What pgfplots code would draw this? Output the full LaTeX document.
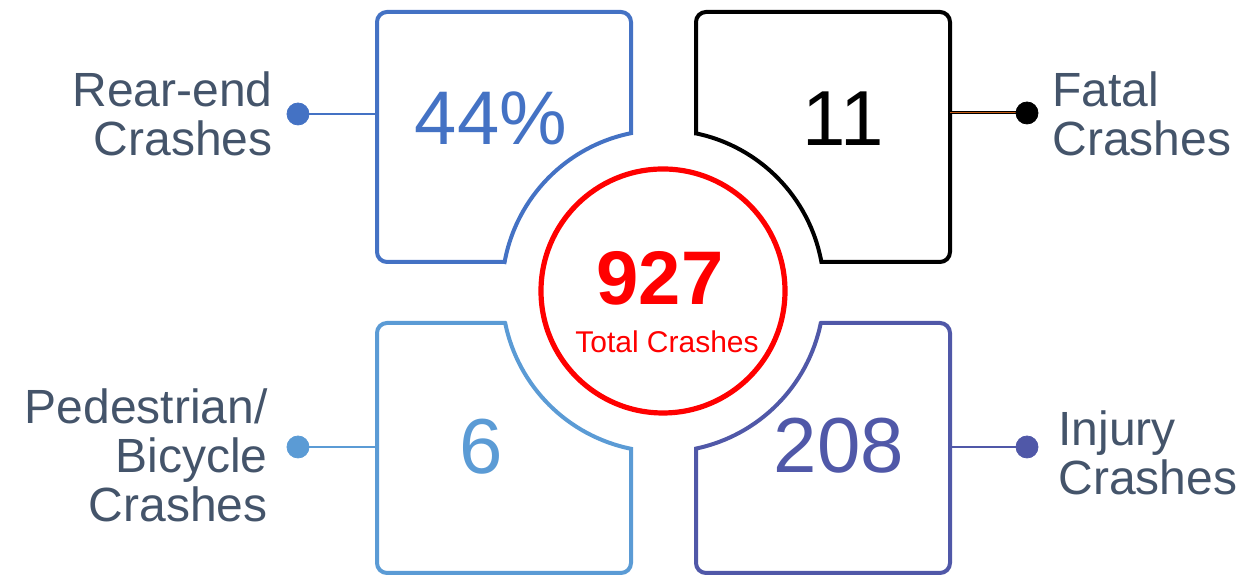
\documentclass[border=0pt]{standalone}
\usepackage{pgfplots}
\pgfplotsset{compat=1.18}
\usepackage{fontspec}
\setmainfont{Liberation Sans}
\definecolor{cblue}{HTML}{4472C4}
\definecolor{clight}{HTML}{5B9BD5}
\definecolor{cindigo}{HTML}{5058A8}
\definecolor{clab}{HTML}{44546A}
\definecolor{corange}{HTML}{C55A11}
\begin{document}
\begin{tikzpicture}
\begin{axis}[
  width=619.5pt, height=288pt, scale only axis,
  xmin=0, xmax=1239, ymin=0, ymax=576,
  hide axis, clip=false,
]
\addplot[draw=none, forget plot] coordinates {(0,0) (1239,576)};
% boxes
\draw[cblue, line width=2pt]
  (axis cs:504.6,314) -- (axis cs:387,314) arc[start angle=270, end angle=180, radius=10]
  -- (axis cs:377,554) arc[start angle=180, end angle=90, radius=10]
  -- (axis cs:621,564) arc[start angle=90, end angle=0, radius=10]
  -- (axis cs:631,442.8) arc[start angle=101.46, end angle=169.63, radius=161] -- cycle;
\draw[black, line width=2pt]
  (axis cs:696,442.6) -- (axis cs:696,554) arc[start angle=180, end angle=90, radius=10]
  -- (axis cs:940,564) arc[start angle=90, end angle=0, radius=10]
  -- (axis cs:950,324) arc[start angle=0, end angle=-90, radius=10]
  -- (axis cs:821.4,314) arc[start angle=10.37, end angle=78.17, radius=161] -- cycle;
\draw[clight, line width=2pt]
  (axis cs:505.2,253) -- (axis cs:387,253) arc[start angle=90, end angle=180, radius=10]
  -- (axis cs:377,13) arc[start angle=180, end angle=270, radius=10]
  -- (axis cs:621,3) arc[start angle=270, end angle=360, radius=10]
  -- (axis cs:631,127.2) arc[start angle=258.54, end angle=191.46, radius=161] -- cycle;
\draw[cindigo, line width=2pt]
  (axis cs:820.8,253) -- (axis cs:940,253) arc[start angle=90, end angle=0, radius=10]
  -- (axis cs:950,13) arc[start angle=0, end angle=-90, radius=10]
  -- (axis cs:706,3) arc[start angle=270, end angle=180, radius=10]
  -- (axis cs:696,127.4) arc[start angle=281.83, end angle=348.54, radius=161] -- cycle;
% central circle
\draw[red, line width=2.6pt] (axis cs:663,285) circle[radius=122];
% connectors
\addplot[cblue, line width=1.2pt, mark=none] coordinates {(298,462) (377,462)};
\addplot[black, line width=1.5pt, mark=none] coordinates {(950,463) (1027,463)};
\addplot[corange, line width=0.5pt, mark=none] coordinates {(950,463) (1027,463)};
\addplot[clight, line width=1.2pt, mark=none] coordinates {(298,129) (377,129)};
\addplot[cindigo, line width=1.2pt, mark=none] coordinates {(950,129) (1027,129)};
\addplot[only marks, mark=*, mark size=5.5pt, cblue] coordinates {(298,462)};
\addplot[only marks, mark=*, mark size=5.5pt, black] coordinates {(1027,463)};
\addplot[only marks, mark=*, mark size=5.5pt, clight] coordinates {(298,129)};
\addplot[only marks, mark=*, mark size=5.5pt, cindigo] coordinates {(1027,129)};
% values
\node[text=cblue, font=\fontsize{38}{40}\selectfont, inner sep=0] at (axis cs:491,458) {44\%};
\node[text=black, font=\fontsize{39}{40}\selectfont, inner sep=0] at (axis cs:843,457) {11};
\node[text=clight, font=\fontsize{39}{40}\selectfont, inner sep=0] at (axis cs:481,129) {6};
\node[text=cindigo, font=\fontsize{39}{40}\selectfont, inner sep=0] at (axis cs:839,130) {208};
\node[text=red, font=\fontsize{38}{40}\selectfont\bfseries, inner sep=0] at (axis cs:660,298) {927};
\node[text=red, font=\fontsize{15}{16}\selectfont, inner sep=0] at (axis cs:667,234) {Total Crashes};
% labels
\node[anchor=east, align=right, text=clab, font=\fontsize{24}{24.5}\selectfont, inner sep=0] at (axis cs:273,462.5) {Rear-end\\Crashes};
\node[anchor=west, align=left, text=clab, font=\fontsize{24}{24.5}\selectfont, inner sep=0] at (axis cs:1052,462.5) {Fatal\\Crashes};
\node[anchor=east, align=right, text=clab, font=\fontsize{24}{24.5}\selectfont, inner sep=0] at (axis cs:268,121) {Pedestrian/\\Bicycle\\Crashes};
\node[anchor=west, align=left, text=clab, font=\fontsize{24}{24.5}\selectfont, inner sep=0] at (axis cs:1058,123) {Injury\\Crashes};
\end{axis}
\end{tikzpicture}
\end{document}
